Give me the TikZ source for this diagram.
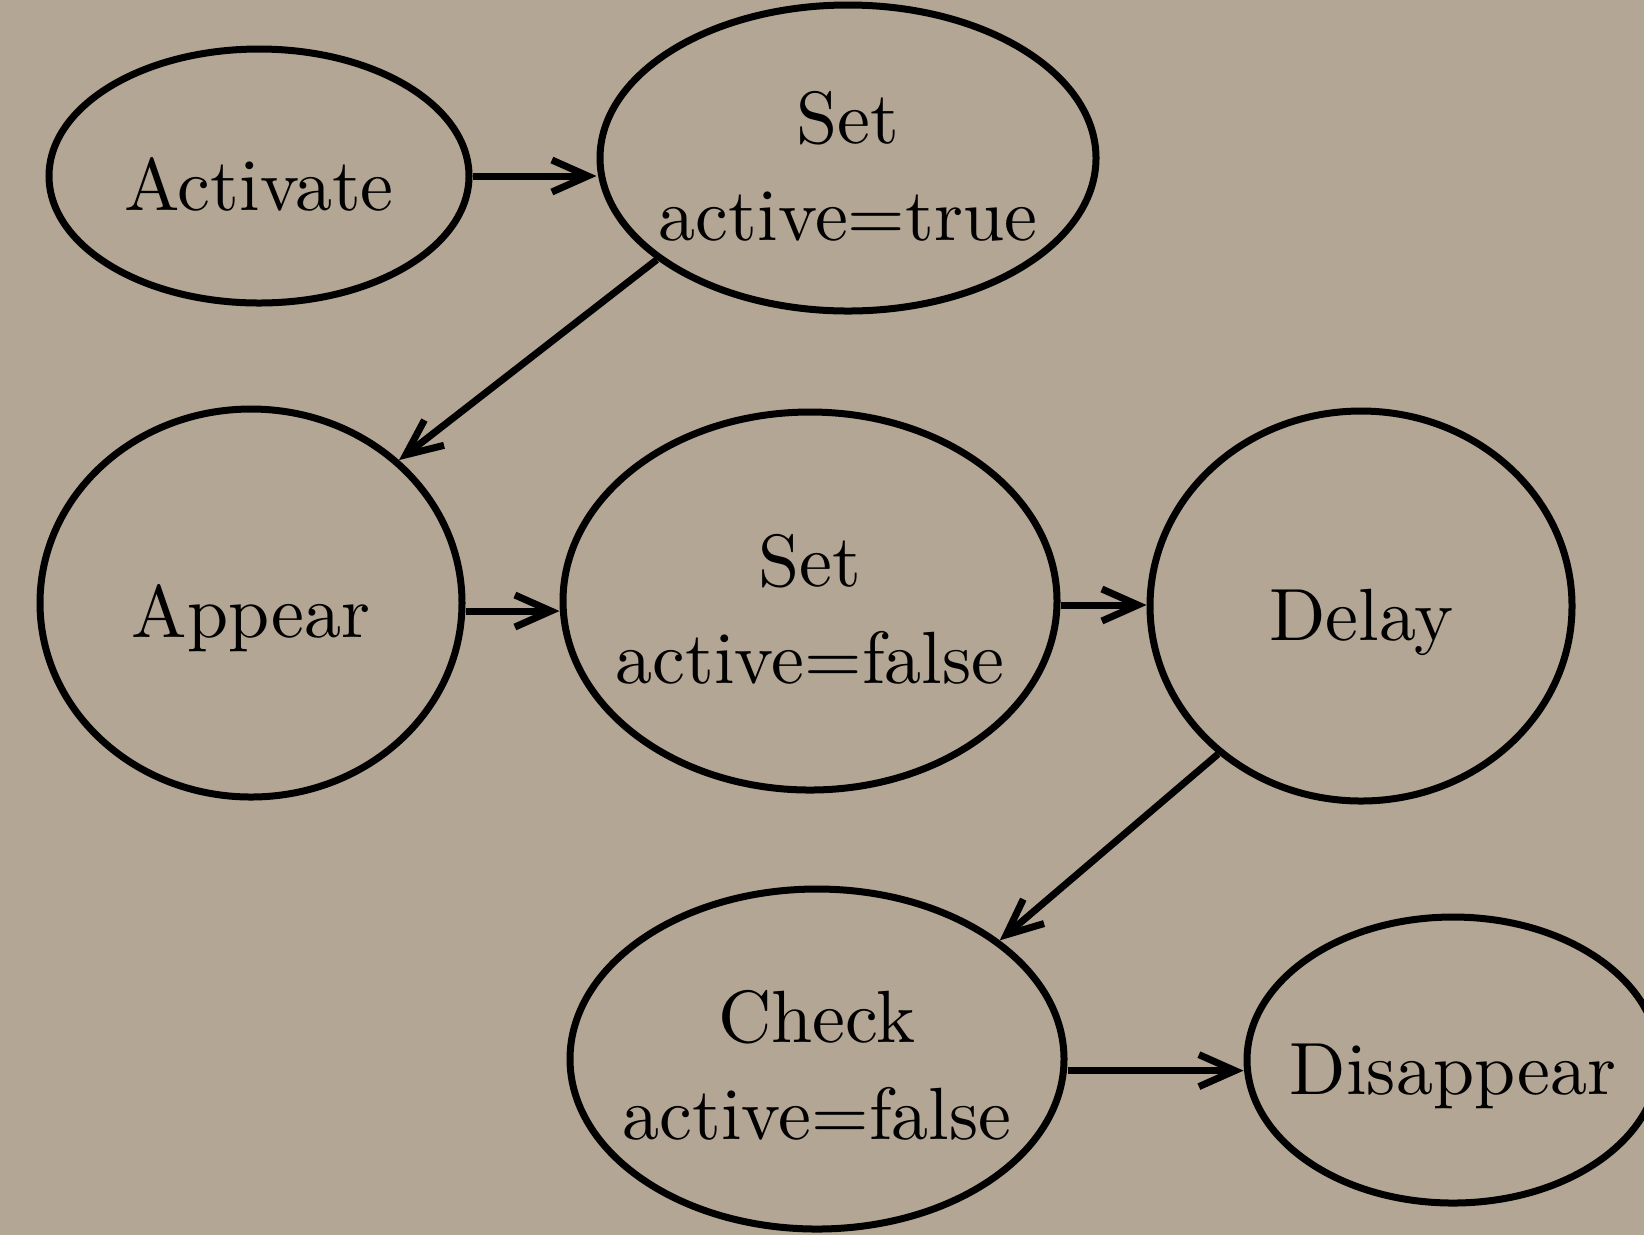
\documentclass[tikz,border=0pt]{standalone}
\usepackage{graphicx}
\usetikzlibrary{arrows.meta,shapes.geometric}
\definecolor{bg}{RGB}{180,166,148}
\newcommand{\lbl}[1]{\scalebox{1.85}{\begin{tabular}[b]{@{}c@{}}#1\end{tabular}}}
\begin{document}
\begin{tikzpicture}[x=0.25pt,y=-0.25pt,
  state/.style={ellipse,draw=black,line width=1.75pt,inner ysep=0pt,inner xsep=-14pt,
    font=\fontsize{10}{13.1}\selectfont,text depth=0pt,text height=17pt},
  twoline/.style={text height=41pt,text depth=0pt,inner ysep=-12pt},
  arr/.style={draw=black,line width=1.75pt,-{Straight Barb[length=9pt,width=8pt]}}]
\fill[bg] (0,0) rectangle (1644,1235);
\useasboundingbox (0,0) rectangle (1644,1235);
\node[state,minimum width=105pt,minimum height=63.5pt] (act) at (259,176) {\lbl{Activate}};
\node[state,twoline,minimum width=124pt,minimum height=76.5pt] (st) at (848,158) {\lbl{Set\\active=true}};
\node[state,minimum width=105.5pt,minimum height=97pt] (app) at (251,603) {\lbl{Appear}};
\node[state,twoline,minimum width=123.5pt,minimum height=94.5pt] (sf) at (810,601) {\lbl{Set\\active=false}};
\node[state,minimum width=105.5pt,minimum height=97.5pt] (del) at (1361,606) {\lbl{Delay}};
\node[state,twoline,text height=40pt,minimum width=123.5pt,minimum height=85pt] (chk) at (817,1059) {\lbl{Check\\active=false}};
\node[state,minimum width=103pt,minimum height=71.5pt] (dis) at (1453,1060) {\lbl{Disappear}};
\draw[arr] (act.east) -- (act.east -| st.west);
\draw[arr] (st.208) -- (app.44);
\draw[arr] ([yshift=-2pt]app.east) -- ([yshift=-2pt]app.east -| sf.west);
\draw[arr] ([yshift=-1pt]sf.east) -- ([yshift=-1pt]sf.east -| del.west);
\draw[arr] (del.226) -- (chk.33);
\draw[arr] ([yshift=-2.9pt]chk.east) -- ([yshift=-2.9pt]chk.east -| dis.west);
\end{tikzpicture}
\end{document}
